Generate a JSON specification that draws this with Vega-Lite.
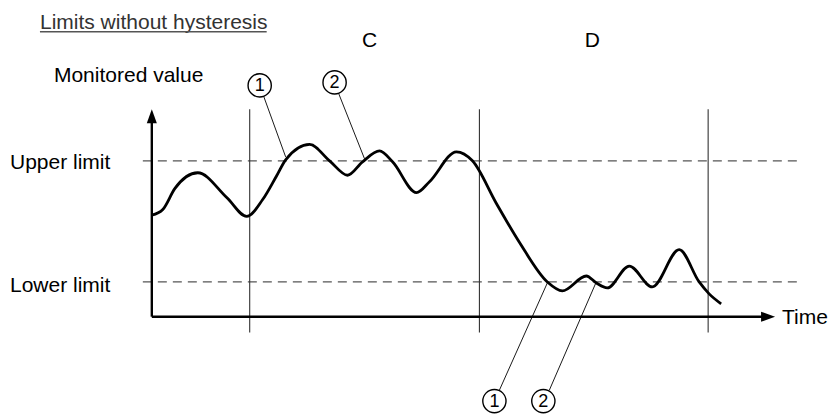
{
  "$schema": "https://vega.github.io/schema/vega-lite/v6.json",
  "width": 828,
  "height": 416,
  "autosize": {"type": "fit", "contains": "padding"},
  "padding": 0,
  "background": "white",
  "config": {"view": {"stroke": null}},
  "datasets": {
    "curve": [
      {"t": 152, "y": 216.7}, {"t": 163, "y": 211}, {"t": 175, "y": 190}, {"t": 198, "y": 174},
      {"t": 227, "y": 199}, {"t": 247, "y": 218}, {"t": 263, "y": 201}, {"t": 277, "y": 177},
      {"t": 286, "y": 161}, {"t": 310, "y": 145.5}, {"t": 330, "y": 162}, {"t": 348, "y": 176.5},
      {"t": 363, "y": 163}, {"t": 380, "y": 152}, {"t": 393, "y": 163}, {"t": 417, "y": 194},
      {"t": 430, "y": 183}, {"t": 457, "y": 153}, {"t": 473, "y": 162}, {"t": 497, "y": 205},
      {"t": 520, "y": 244}, {"t": 548, "y": 284}, {"t": 563, "y": 293},
      {"t": 587, "y": 278}, {"t": 597, "y": 285}, {"t": 608, "y": 290}, {"t": 630, "y": 268},
      {"t": 653, "y": 289}, {"t": 680, "y": 251.5}, {"t": 700, "y": 284}, {"t": 710, "y": 296},
      {"t": 722, "y": 306}
    ],
    "limits": [
      {"name": "Upper limit", "t0": 143, "t1": 800, "y": 162},
      {"name": "Lower limit", "t0": 143, "t1": 800, "y": 284}
    ],
    "sections": [
      {"t": 250, "y0": 110, "y1": 335},
      {"t": 480, "y0": 110, "y1": 335},
      {"t": 709, "y0": 110, "y1": 335}
    ],
    "axes": [
      {"t0": 152, "t1": 152, "y0": 319, "y1": 116},
      {"t0": 152, "t1": 770, "y0": 319, "y1": 319}
    ],
    "leaders": [
      {"t0": 264, "y0": 97, "t1": 286, "y1": 158},
      {"t0": 339, "y0": 94, "t1": 365, "y1": 160},
      {"t0": 500, "y0": 393, "t1": 548, "y1": 285},
      {"t0": 550, "y0": 393, "t1": 597, "y1": 284}
    ],
    "markers": [
      {"num": "1", "t": 260, "y": 86},
      {"num": "2", "t": 335, "y": 83},
      {"num": "1", "t": 495, "y": 404},
      {"num": "2", "t": 544, "y": 404}
    ],
    "labels": [
      {"text": "Monitored value", "t": 54, "y": 83},
      {"text": "Upper limit", "t": 10, "y": 170.5},
      {"text": "Lower limit", "t": 10, "y": 294},
      {"text": "Time", "t": 783, "y": 326}
    ],
    "regions": [
      {"text": "C", "t": 370, "y": 47.5},
      {"text": "D", "t": 593, "y": 47.5}
    ],
    "title": [{"text": "Limits without hysteresis", "t": 40, "t1": 267, "y": 29, "yu": 32}]
  },
  "layer": [
    {
      "data": {"name": "limits"},
      "mark": {"type": "rule", "color": "#555555", "strokeWidth": 1.2, "strokeDash": [9, 6]},
      "encoding": {
        "x": {"field": "t0", "type": "quantitative", "scale": {"domain": [0, 828], "nice": false, "zero": false}, "axis": null},
        "x2": {"field": "t1"},
        "y": {"field": "y", "type": "quantitative", "scale": {"domain": [416, 0], "nice": false, "zero": false}, "axis": null}
      }
    },
    {
      "data": {"name": "sections"},
      "mark": {"type": "rule", "color": "#333333", "strokeWidth": 1.1},
      "encoding": {
        "x": {"field": "t", "type": "quantitative"},
        "y": {"field": "y0", "type": "quantitative"},
        "y2": {"field": "y1"}
      }
    },
    {
      "data": {"name": "axes"},
      "mark": {"type": "rule", "color": "black", "strokeWidth": 2.4},
      "encoding": {
        "x": {"field": "t0", "type": "quantitative"},
        "x2": {"field": "t1"},
        "y": {"field": "y0", "type": "quantitative"},
        "y2": {"field": "y1"}
      }
    },
    {
      "data": {"values": [{"t": 152, "y": 117}]},
      "mark": {"type": "point", "shape": "M0,-1L0.72,1L-0.72,1Z", "filled": true, "color": "black", "opacity": 1, "size": 196},
      "encoding": {
        "x": {"field": "t", "type": "quantitative"},
        "y": {"field": "y", "type": "quantitative"}
      }
    },
    {
      "data": {"values": [{"t": 769, "y": 319}]},
      "mark": {"type": "point", "shape": "M1,0L-1,0.72L-1,-0.72Z", "filled": true, "color": "black", "opacity": 1, "size": 196},
      "encoding": {
        "x": {"field": "t", "type": "quantitative"},
        "y": {"field": "y", "type": "quantitative"}
      }
    },
    {
      "data": {"name": "curve"},
      "mark": {"type": "line", "color": "black", "strokeWidth": 2.8, "interpolate": "monotone"},
      "encoding": {
        "x": {"field": "t", "type": "quantitative"},
        "y": {"field": "y", "type": "quantitative"}
      }
    },
    {
      "data": {"name": "leaders"},
      "mark": {"type": "rule", "color": "black", "strokeWidth": 0.9},
      "encoding": {
        "x": {"field": "t0", "type": "quantitative"},
        "x2": {"field": "t1"},
        "y": {"field": "y0", "type": "quantitative"},
        "y2": {"field": "y1"}
      }
    },
    {
      "data": {"name": "markers"},
      "mark": {"type": "point", "shape": "circle", "filled": false, "fill": "white", "fillOpacity": 1, "stroke": "black", "strokeWidth": 1.4, "opacity": 1, "size": 540},
      "encoding": {
        "x": {"field": "t", "type": "quantitative"},
        "y": {"field": "y", "type": "quantitative"}
      }
    },
    {
      "data": {"name": "markers"},
      "mark": {"type": "text", "font": "Liberation Sans", "fontSize": 18, "align": "center", "baseline": "middle", "dy": 1, "color": "black"},
      "encoding": {
        "x": {"field": "t", "type": "quantitative"},
        "y": {"field": "y", "type": "quantitative"},
        "text": {"field": "num"}
      }
    },
    {
      "data": {"name": "labels"},
      "mark": {"type": "text", "font": "Liberation Sans", "fontSize": 21, "align": "left", "baseline": "alphabetic", "color": "black"},
      "encoding": {
        "x": {"field": "t", "type": "quantitative"},
        "y": {"field": "y", "type": "quantitative"},
        "text": {"field": "text"}
      }
    },
    {
      "data": {"name": "regions"},
      "mark": {"type": "text", "font": "Liberation Sans", "fontSize": 21, "align": "center", "baseline": "alphabetic", "color": "black"},
      "encoding": {
        "x": {"field": "t", "type": "quantitative"},
        "y": {"field": "y", "type": "quantitative"},
        "text": {"field": "text"}
      }
    },
    {
      "data": {"name": "title"},
      "mark": {"type": "text", "font": "Liberation Sans", "fontSize": 21, "align": "left", "baseline": "alphabetic", "color": "#333333"},
      "encoding": {
        "x": {"field": "t", "type": "quantitative"},
        "y": {"field": "y", "type": "quantitative"},
        "text": {"field": "text"}
      }
    },
    {
      "data": {"name": "title"},
      "mark": {"type": "rule", "color": "#555555", "strokeWidth": 1.3},
      "encoding": {
        "x": {"field": "t", "type": "quantitative"},
        "x2": {"field": "t1"},
        "y": {"field": "yu", "type": "quantitative"}
      }
    }
  ]
}
